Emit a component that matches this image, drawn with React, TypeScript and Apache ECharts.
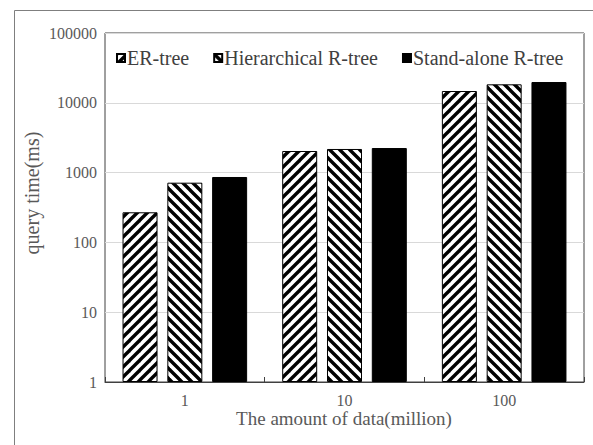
import React, { useEffect, useRef } from "react";
import * as echarts from "echarts";

const categories = ["1", "10", "100"];
const seriesNames = ["ER-tree", "Hierarchical R-tree", "Stand-alone R-tree"];
const erTree = [270, 2040, 14750];
const hierarchical = [717, 2180, 18400];
const standAlone = [865, 2250, 19850];
const yTitle = "query time(ms)";
const xTitle = "The amount of data(million)";

const FONT = "Liberation Serif";

function makeStripe(dir: "fwd" | "back"): HTMLCanvasElement {
  const c = document.createElement("canvas");
  const s = 10;
  c.width = s;
  c.height = s;
  const ctx = c.getContext("2d")!;
  ctx.fillStyle = "#ffffff";
  ctx.fillRect(0, 0, s, s);
  ctx.strokeStyle = "#000000";
  ctx.lineWidth = 3.4;
  ctx.lineCap = "square";
  const offs = [-s, 0, s];
  for (const o of offs) {
    ctx.beginPath();
    if (dir === "fwd") {
      ctx.moveTo(o - 2, s + 2);
      ctx.lineTo(o + s + 2, -2);
    } else {
      ctx.moveTo(o - 2, -2);
      ctx.lineTo(o + s + 2, s + 2);
    }
    ctx.stroke();
  }
  return c;
}

export default function App() {
  const ref = useRef<HTMLDivElement>(null);
  useEffect(() => {
    if (!ref.current) return;
    const chart = echarts.init(ref.current, undefined, { renderer: "svg" });
    const fwd = makeStripe("fwd");
    const back = makeStripe("back");
    const pat = (img: HTMLCanvasElement) =>
      ({ image: img, repeat: "repeat", imageWidth: 10, imageHeight: 10 } as any);
    const data = [erTree, hierarchical, standAlone];
    const fills = [pat(fwd), pat(back), "#000000"];
    chart.setOption({
      animation: false,
      backgroundColor: "#ffffff",
      textStyle: { fontFamily: FONT },
      grid: {
        left: 105,
        right: 9,
        top: 33,
        bottom: 63,
        show: true,
        borderColor: "#404040",
        borderWidth: 1,
        backgroundColor: "transparent",
      },
      legend: {
        left: 111,
        top: 43,
        itemWidth: 8,
        itemHeight: 8,
        itemGap: 24,
        icon: "rect",
        textStyle: {
          fontFamily: FONT,
          fontSize: 20,
          color: "#404040",
          padding: [0, 0, 0, -3],
        },
        data: seriesNames,
      },
      xAxis: {
        type: "category",
        data: categories,
        axisLine: { show: true, lineStyle: { color: "#404040", width: 1 } },
        axisTick: { show: true, inside: true, length: 5, lineStyle: { color: "#404040" } },
        axisLabel: { fontFamily: FONT, fontSize: 16, color: "#595959", margin: 10 },
        splitLine: { show: false },
      },
      yAxis: {
        type: "log",
        logBase: 10,
        min: 1,
        max: 100000,
        axisLine: { show: false },
        axisTick: { show: false },
        axisLabel: {
          fontFamily: FONT,
          fontSize: 16,
          color: "#595959",
          margin: 8,
          formatter: (v: number) => String(Math.round(v)),
        },
        splitLine: { show: true, lineStyle: { color: "#d9d9d9", width: 1 } },
      },
      series: data.map((d, i) => ({
        name: seriesNames[i],
        type: "bar",
        data: d,
        barWidth: 35,
        barGap: "28%",
        itemStyle: { color: fills[i], borderColor: "#000000", borderWidth: 1 },
      })),
      graphic: [
        {
          type: "rect",
          silent: true,
          shape: { x: 14.5, y: 10.5, width: 700, height: 600 },
          style: { fill: "none", stroke: "#7f7f7f", lineWidth: 1 },
        },
        {
          type: "text",
          x: 32,
          y: 193,
          rotation: Math.PI / 2,
          style: {
            text: yTitle,
            fontFamily: FONT,
            fontSize: 20,
            fill: "#595959",
            align: "center",
            verticalAlign: "middle",
          },
        },
        {
          type: "text",
          x: 344,
          y: 418,
          style: {
            text: xTitle,
            fontFamily: FONT,
            fontSize: 19,
            fill: "#595959",
            align: "center",
            verticalAlign: "middle",
          },
        },
      ],
    });
    return () => chart.dispose();
  }, []);
  return (
    <div
      ref={ref}
      style={{ position: "fixed", left: 0, top: 0, width: 593, height: 445 }}
    />
  );
}
